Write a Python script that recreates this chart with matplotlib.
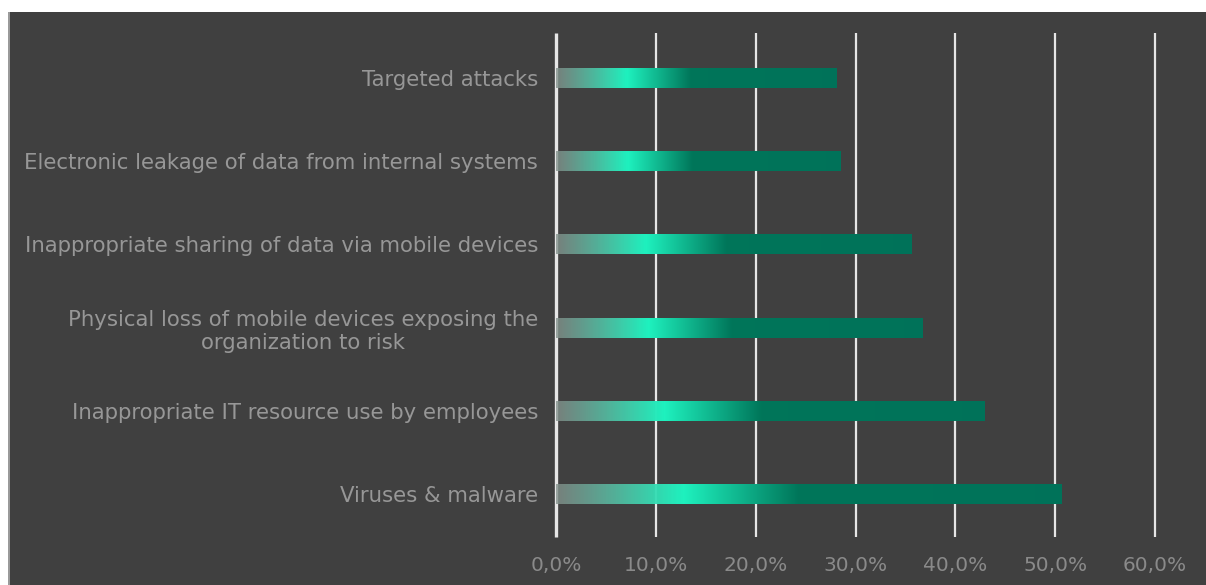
import matplotlib.pyplot as plt
import numpy as np
from matplotlib.colors import LinearSegmentedColormap
from matplotlib.patches import Rectangle

# categories top -> bottom
categories = [
    "Targeted attacks",
    "Electronic leakage of data from internal systems",
    "Inappropriate sharing of data via mobile devices",
    "Physical loss of mobile devices exposing the\norganization to risk",
    "Inappropriate IT resource use by employees",
    "Viruses & malware",
]
values = [28.1, 28.5, 35.6, 36.7, 42.9, 50.6]
ticks = [0, 10, 20, 30, 40, 50, 60]
tick_labels = ["0,0%", "10,0%", "20,0%", "30,0%", "40,0%", "50,0%", "60,0%"]

W, H = 1206, 585
bg = "#404040"

fig = plt.figure(figsize=(W / 100, H / 100), dpi=100, facecolor="white")
fig.patches.append(Rectangle((8 / W, 0), 1 - 8 / W, 1 - 12 / H, transform=fig.transFigure,
                             facecolor=bg, edgecolor="none", zorder=-10))
fig.patches.append(Rectangle((8 / W, 0), 1.5 / W, 1 - 12 / H, transform=fig.transFigure,
                             facecolor="#9a9a9a", edgecolor="none", zorder=-9))

ax = fig.add_axes([556 / W, (H - 537) / H, (1155 - 556) / W, (537 - 33) / H])
ax.set_facecolor("none")
ax.set_zorder(1)

for s in ax.spines.values():
    s.set_visible(False)

y_top, y_bot = -0.54, len(categories) - 1 + 0.517
for t in ticks:
    lw = 2.4 if t == 0 else 1.6
    ax.plot([t, t], [y_top, y_bot], color="#e6e6e6", lw=lw,
            clip_on=False, zorder=1, solid_capstyle="butt")

cmap = LinearSegmentedColormap.from_list("grad", [
    (0.0, (0.52, 0.57, 0.55, 0.8)),
    (0.25, (0.12, 0.95, 0.75, 1.0)),
    (0.48, (0.0, 0.46, 0.35, 1.0)),
    (1.0, (0.0, 0.45, 0.35, 1.0)),
])
grad = np.linspace(0, 1, 256).reshape(1, -1)
bh = 0.24
for i, v in enumerate(values):
    ax.imshow(grad, cmap=cmap, aspect="auto", interpolation="bilinear",
              extent=[0, v, i + bh / 2, i - bh / 2], zorder=2)
ax.set_xlim(0, 60)
ax.set_ylim(y_bot, y_top)

ax.set_yticks(range(len(categories)))
ax.set_yticklabels(categories, ha="right", multialignment="center")
ax.set_xticks(ticks)
ax.set_xticklabels(tick_labels)
ax.tick_params(axis="y", length=0, pad=13, labelsize=15.3, labelcolor="#979797")
ax.tick_params(axis="x", length=0, pad=14, labelsize=14.5, labelcolor="#8a8a8a")
for lab in ax.get_yticklabels() + ax.get_xticklabels():
    lab.set_fontfamily("DejaVu Sans")

fig.savefig("out.png", dpi=100, facecolor="white")
